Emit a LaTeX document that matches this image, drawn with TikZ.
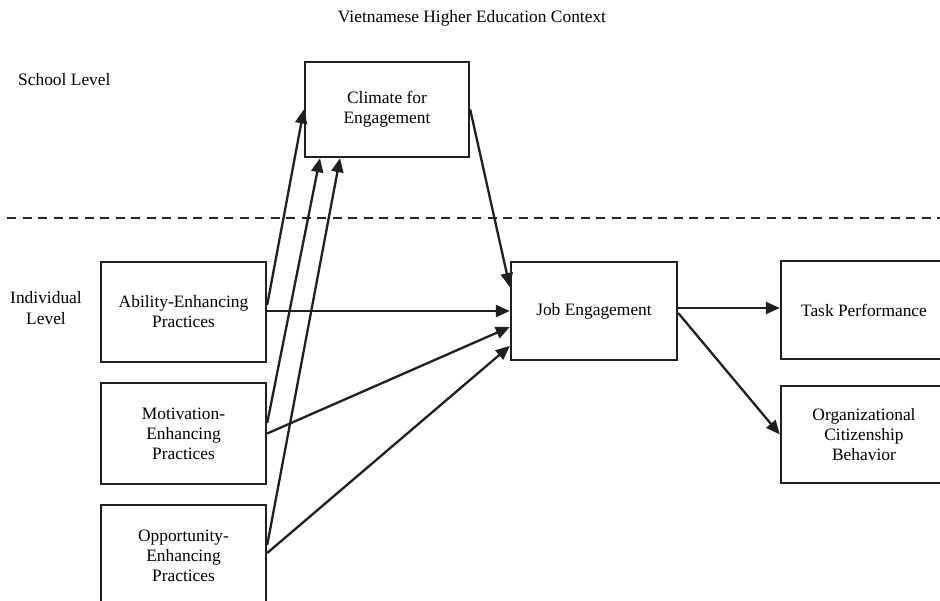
\documentclass[tikz,border=0pt]{standalone}
\usepackage{fontspec}
\setmainfont{Liberation Serif}
\usetikzlibrary{arrows.meta,calc}
\begin{document}
\begin{tikzpicture}[x=1pt,y=-1pt,
  every node/.style={font=\fontsize{17.4}{20}\selectfont, inner sep=0pt},
  box/.style={draw=black!88, line width=2.4pt, align=center, minimum width=165pt},
  conn/.style={line width=2.3pt, draw=black!88, -{Triangle[length=14pt,width=12pt]}},
  lbl/.style={align=center}]
\useasboundingbox (0,0) rectangle (940,600);
\clip (0,0) rectangle (940,600);
% labels
\node[lbl] (title) at (472,18) {Vietnamese Higher Education Context};
\node[lbl, anchor=west] (school) at (18,80) {School Level};
\node[lbl] (indiv) at (46,308) {Individual\\[1pt]Level};
% level separator
\coordinate (dl) at (7,218);
\coordinate (dr) at (945,218);
\draw[line width=2.6pt, black!85, dash pattern=on 9pt off 6.5pt] (dl) -- (dr);
% boxes
\node[box, minimum width=164pt, minimum height=95pt] (clim) at (387,109.5) {Climate for\\Engagement};
\node[box, minimum height=100pt] (abil) at (183.5,312) {Ability-Enhancing\\Practices};
\node[box, minimum height=101pt] (moti) at (183.5,433.5) {Motivation-\\Enhancing\\Practices};
\node[box, minimum height=101pt] (oppo) at (183.5,555.5) {Opportunity-\\Enhancing\\Practices};
\node[box, minimum width=166pt, minimum height=98pt] (je) at (594,311) {Job Engagement};
\node[box, minimum width=166pt, minimum height=98pt] (tp) at (864,310) {Task Performance};
\node[box, minimum width=166pt, minimum height=97pt] (ocb) at (864,434.5) {Organizational\\Citizenship\\Behavior};
% connectors
\draw[conn] ([yshift=7pt]abil.east) -- (clim.west);
\draw[conn] ([yshift=10.5pt]moti.east) -- ([xshift=-67pt]clim.south);
\draw[conn] ([yshift=10.5pt]oppo.east) -- ([xshift=-47pt]clim.south);
\draw[conn] (clim.east) -- ([yshift=24pt]je.west);
\draw[conn] ([yshift=1pt]abil.east) -- ([yshift=1pt]abil.east -| je.west);
\draw[conn] (moti.east) -- ([yshift=-16pt]je.west);
\draw[conn] ([yshift=2.5pt]oppo.east) -- ([yshift=-35pt]je.west);
\draw[conn] ([yshift=3pt]je.east) -- ([yshift=3pt]je.east -| tp.west);
\draw[conn] ([yshift=-2pt]je.east) -- (ocb.west);
\end{tikzpicture}
\end{document}
